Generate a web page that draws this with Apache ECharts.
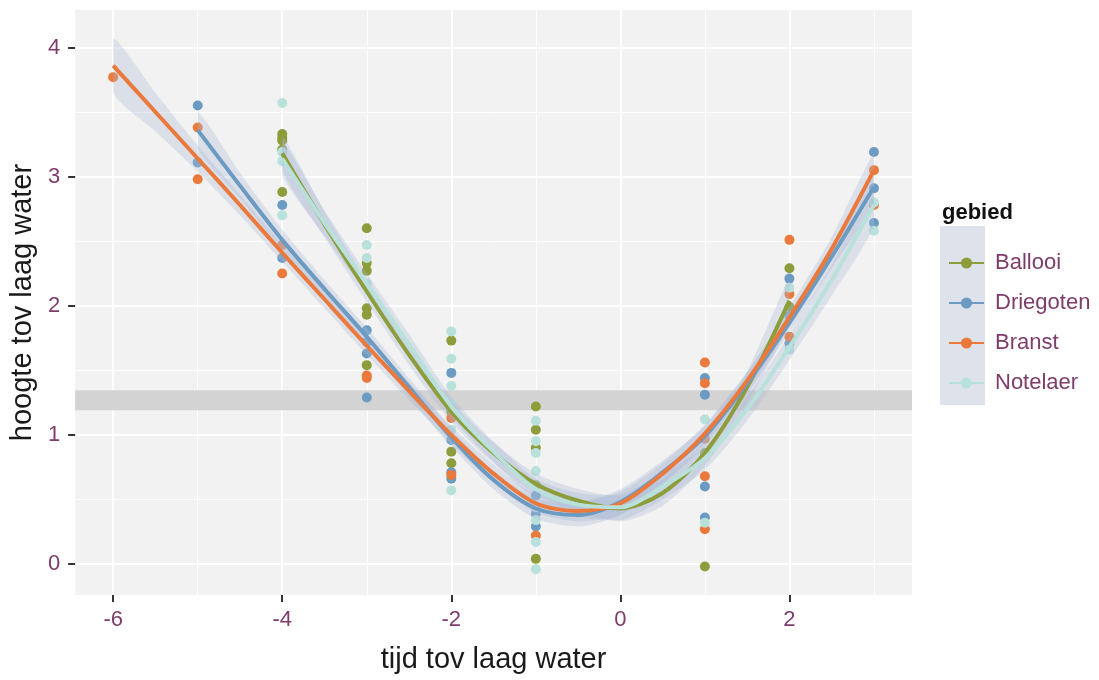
<!DOCTYPE html>
<html>
<head>
<meta charset="utf-8">
<script src="https://cdn.jsdelivr.net/npm/echarts@6/dist/echarts.min.js"></script>
<style>
  html, body { margin: 0; padding: 0; background: #fff; }
  #chart { width: 1099px; height: 680px; }
</style>
</head>
<body>
<div id="chart"></div>
<script>
// gebieden en kleuren
const names = ['Ballooi', 'Driegoten', 'Branst', 'Notelaer'];
const colors = ['#8E9D3B', '#6B9BC3', '#EB793C', '#B9E1DB'];

// losse metingen: [tijd, hoogte]
const ballooiPts = [
  [-4, 3.33], [-4, 3.30], [-4, 3.28], [-4, 3.21], [-4, 2.88],
  [-3, 2.60], [-3, 2.33], [-3, 2.27], [-3, 1.98], [-3, 1.93], [-3, 1.54],
  [-2, 1.73], [-2, 1.18], [-2, 0.87], [-2, 0.78],
  [-1, 1.22], [-1, 1.04], [-1, 0.90], [-1, 0.61], [-1, 0.04],
  [1, 0.86], [1, -0.02],
  [2, 2.29], [2, 1.99]
];
const driegotenPts = [
  [-5, 3.55], [-5, 3.11],
  [-4, 2.78], [-4, 2.37],
  [-3, 1.81], [-3, 1.72], [-3, 1.63], [-3, 1.29],
  [-2, 1.48], [-2, 0.96], [-2, 0.71], [-2, 0.66],
  [-1, 0.53], [-1, 0.39], [-1, 0.29],
  [1, 1.44], [1, 1.31], [1, 0.60], [1, 0.36],
  [2, 2.21], [2, 1.92], [2, 1.71],
  [3, 3.19], [3, 2.91], [3, 2.64]
];
const branstPts = [
  [-6, 3.77],
  [-5, 3.38], [-5, 2.98],
  [-4, 2.47], [-4, 2.25],
  [-3, 1.46], [-3, 1.44],
  [-2, 1.13], [-2, 0.69],
  [-1, 0.22],
  [1, 1.56], [1, 1.40], [1, 0.97], [1, 0.68], [1, 0.27],
  [2, 2.51], [2, 2.09], [2, 1.76],
  [3, 3.05], [3, 2.78]
];
const notelaerPts = [
  [-4, 3.57], [-4, 3.19], [-4, 3.12], [-4, 2.70],
  [-3, 2.47], [-3, 2.37], [-3, 2.17],
  [-2, 1.80], [-2, 1.59], [-2, 1.38], [-2, 1.24], [-2, 1.04], [-2, 0.57],
  [-1, 1.11], [-1, 0.95], [-1, 0.86], [-1, 0.72], [-1, 0.44], [-1, 0.34], [-1, 0.17], [-1, -0.04],
  [1, 1.12], [1, 0.32],
  [2, 2.14], [2, 1.66],
  [3, 2.80], [3, 2.58]
];

const ballooiX = [-4, -3.5, -3, -2.5, -2, -1.5, -1, -0.5, 0, 0.5, 1, 1.5, 2];
const ballooiFit = [3.18, 2.63, 2.11, 1.62, 1.18, 0.86, 0.62, 0.49, 0.43, 0.55, 0.86, 1.37, 2.04];
const ballooiSe = [0.13, 0.10, 0.08, 0.08, 0.08, 0.08, 0.08, 0.09, 0.10, 0.10, 0.10, 0.12, 0.16];

const driegotenX = [-5, -4.5, -4, -3.5, -3, -2.5, -2, -1.5, -1, -0.5, 0, 0.5, 1, 1.5, 2, 2.5, 3];
const driegotenFit = [3.36, 2.93, 2.51, 2.13, 1.76, 1.37, 0.98, 0.65, 0.43, 0.38, 0.48, 0.71, 0.99, 1.40, 1.87, 2.38, 2.92];
const driegotenSe = [0.14, 0.10, 0.08, 0.07, 0.07, 0.07, 0.07, 0.07, 0.08, 0.09, 0.10, 0.09, 0.08, 0.08, 0.08, 0.09, 0.13];

const branstX = [-6, -5.5, -5, -4.5, -4, -3.5, -3, -2.5, -2, -1.5, -1, -0.5, 0, 0.5, 1, 1.5, 2, 2.5, 3];
const branstFit = [3.86, 3.50, 3.14, 2.78, 2.41, 2.05, 1.69, 1.34, 1.00, 0.70, 0.47, 0.41, 0.47, 0.70, 1.01, 1.42, 1.91, 2.44, 3.05];
const branstSe = [0.21, 0.15, 0.10, 0.08, 0.07, 0.07, 0.07, 0.07, 0.07, 0.07, 0.07, 0.08, 0.09, 0.08, 0.07, 0.07, 0.08, 0.09, 0.13];

const notelaerX = [-4, -3.5, -3, -2.5, -2, -1.5, -1, -0.5, 0, 0.5, 1, 1.5, 2, 2.5, 3];
const notelaerFit = [3.14, 2.64, 2.17, 1.70, 1.22, 0.87, 0.58, 0.46, 0.44, 0.60, 0.82, 1.20, 1.68, 2.20, 2.78];
const notelaerSe = [0.13, 0.10, 0.08, 0.08, 0.08, 0.08, 0.08, 0.09, 0.10, 0.10, 0.09, 0.09, 0.10, 0.12, 0.16];

// as-labels en rasterlijnen
const xTicks = [-6, -4, -2, 0, 2];
const xMinor = [-5, -3, -1, 1, 3];
const yTicks = [0, 1, 2, 3, 4];
const yMinor = [0.5, 1.5, 2.5, 3.5];
const laagBand = [1.19, 1.345];

const pts = [ballooiPts, driegotenPts, branstPts, notelaerPts];
const fits = [
  [ballooiX, ballooiFit, ballooiSe],
  [driegotenX, driegotenFit, driegotenSe],
  [branstX, branstFit, branstSe],
  [notelaerX, notelaerFit, notelaerSe]
];

const labelColor = '#7D3C6A';
const font = 'Liberation Sans, Arial, sans-serif';
const smoothing = 0.3;
const chart = echarts.init(document.getElementById('chart'));

// betrouwbaarheidsband als één vlak tussen onder- en bovenrand
function bandSeries(i) {
  const [xs, ys, se] = fits[i];
  const data = xs.map((x, k) => [x, ys[k] - se[k], ys[k] + se[k]]);
  return {
    type: 'custom',
    name: names[i] + ' se',
    silent: true,
    z: 4,
    data: data,
    encode: { x: 0, y: 2 },
    renderItem: (params, api) => {
      if (params.dataIndex !== 0) return null;
      const upper = data.map((d) => api.coord([d[0], d[2]]));
      const lower = data.map((d) => api.coord([d[0], d[1]])).reverse();
      const poly = upper.concat(lower);
      // houd de gladde rand binnen het kader van de punten
      return {
        type: 'polygon',
        shape: { points: poly, smooth: 0.25, smoothConstraint: [poly[0].slice(), poly[0].slice()] },
        style: { fill: 'rgba(170,186,214,0.33)' }
      };
    }
  };
}

const gridLines = [];
xTicks.forEach((v) => gridLines.push({ xAxis: v, lineStyle: { width: 2 } }));
xMinor.forEach((v) => gridLines.push({ xAxis: v, lineStyle: { width: 1 } }));
yTicks.forEach((v) => gridLines.push({ yAxis: v, lineStyle: { width: 2 } }));
yMinor.forEach((v) => gridLines.push({ yAxis: v, lineStyle: { width: 1 } }));

const series = [];

// lijnen eerst zodat de legende hun icoon gebruikt
names.forEach((n, i) => {
  const [xs, ys] = fits[i];
  series.push({
    type: 'line',
    name: n,
    data: xs.map((x, k) => [x, ys[k]]),
    smooth: smoothing,
    symbol: 'circle',
    symbolSize: 10,
    showSymbol: false,
    itemStyle: { color: colors[i] },
    lineStyle: { width: 4, color: colors[i] },
    z: 5,
    silent: true
  });
});

names.forEach((n, i) => {
  series.push({
    type: 'scatter',
    name: n,
    data: pts[i],
    symbolSize: 10,
    itemStyle: { color: colors[i], opacity: 1 },
    z: 3
  });
});

names.forEach((n, i) => series.push(bandSeries(i)));

// rasterlijnen en grijze band op een onzichtbare reeks
series.push({
  type: 'scatter',
  name: 'raster',
  data: [[0, 0]],
  symbolSize: 0,
  itemStyle: { opacity: 0 },
  z: 1,
  silent: true,
  markLine: {
    silent: true,
    z: 0,
    symbol: ['none', 'none'],
    label: { show: false },
    lineStyle: { color: '#ffffff', type: 'solid' },
    data: gridLines
  },
  markArea: {
    silent: true,
    z: 1,
    itemStyle: { color: '#D3D3D3' },
    data: [[{ yAxis: laagBand[0] }, { yAxis: laagBand[1] }]]
  }
});

chart.setOption({
  animation: false,
  backgroundColor: '#ffffff',
  textStyle: { fontFamily: font },
  grid: {
    left: 75, right: 187, top: 10, bottom: 85,
    show: true, backgroundColor: '#F2F2F2', borderWidth: 0
  },
  xAxis: {
    type: 'value',
    min: -6.45,
    max: 3.45,
    name: 'tijd tov laag water',
    nameLocation: 'middle',
    nameGap: 50,
    nameTextStyle: { fontSize: 29, color: '#1a1a1a' },
    splitLine: { show: false },
    axisLine: { show: false, onZero: false },
    axisTick: { show: true, customValues: xTicks, length: 7, lineStyle: { color: '#333', width: 2 } },
    axisLabel: { customValues: xTicks, color: labelColor, fontSize: 22, margin: 14 }
  },
  yAxis: {
    type: 'value',
    min: -0.24,
    max: 4.29,
    name: 'hoogte tov laag water',
    nameLocation: 'middle',
    nameGap: 35,
    nameTextStyle: { fontSize: 29, color: '#1a1a1a' },
    splitLine: { show: false },
    axisLine: { show: false, onZero: false },
    axisTick: { show: true, customValues: yTicks, length: 7, lineStyle: { color: '#333', width: 2 } },
    axisLabel: { customValues: yTicks, color: labelColor, fontSize: 22, margin: 15 }
  },
  legend: {
    data: names,
    orient: 'vertical',
    left: 943,
    top: 247,
    itemWidth: 35,
    itemHeight: 14,
    itemGap: 18,
    textStyle: { color: labelColor, fontSize: 22, padding: [0, 0, 0, 6] }
  },
  graphic: [
    { type: 'rect', left: 940, top: 226, shape: { width: 45, height: 179 }, style: { fill: '#DDE2EB' }, z: -1 },
    { type: 'text', left: 942, top: 202, style: { text: 'gebied', fontSize: 22, fontWeight: 'bold', fill: '#111', fontFamily: font } }
  ],
  series: series
});
</script>
</body>
</html>
